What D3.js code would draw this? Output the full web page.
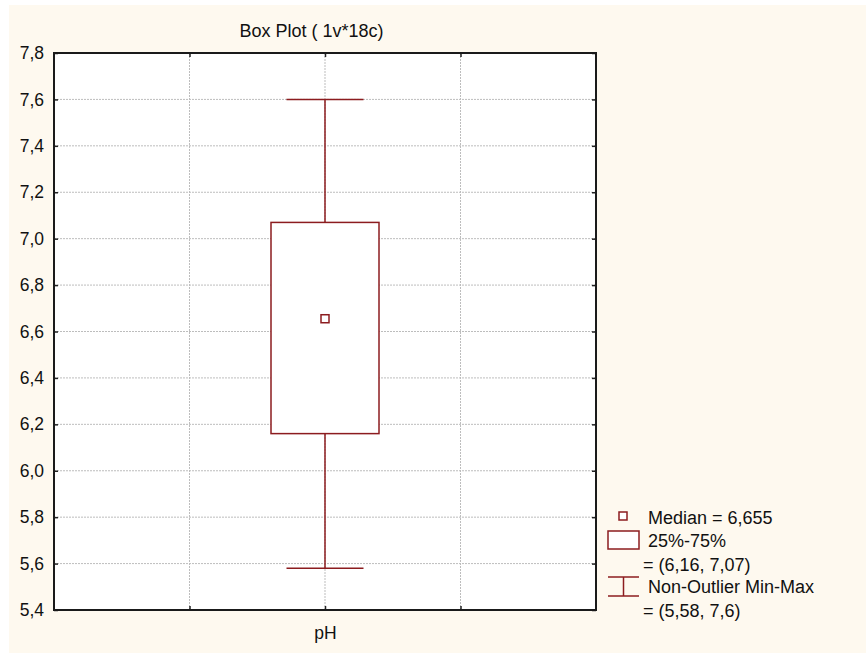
<!DOCTYPE html>
<html>
<head>
<meta charset="utf-8">
<script src="https://cdn.jsdelivr.net/npm/d3@7"></script>
<style>
  body { margin: 0; background: #fff; }
  text { font-family: "Liberation Sans", Arial, sans-serif; fill: #111; }
</style>
</head>
<body>
<div id="chart"></div>
<script>
// box plot values
let categories = ["pH"];
let medians = [6.655];
let q1s = [6.16];
let q3s = [7.07];
let mins = [5.58];
let maxs = [7.6];
let yTicks = [5.4, 5.6, 5.8, 6.0, 6.2, 6.4, 6.6, 6.8, 7.0, 7.2, 7.4, 7.6, 7.8];
let legendLines = ["Median = 6,655", "25%-75%", "= (6,16, 7,07)", "Non-Outlier Min-Max", "= (5,58, 7,6)"];

let width = 866, height = 653;
let margin = {left: 54, top: 53, right: 596, bottom: 610};
let boxColor = "#8c1c1f";

let svg = d3.select("#chart").append("svg").attr("width", width).attr("height", height);

// cream background
svg.append("rect").attr("x", 9).attr("y", 5).attr("width", width - 9).attr("height", height - 5).attr("fill", "#fef9ef");

// plot area
svg.append("rect").attr("x", margin.left).attr("y", margin.top)
    .attr("width", margin.right - margin.left).attr("height", margin.bottom - margin.top)
    .attr("fill", "#fff");

let y = d3.scaleLinear().domain([5.4, 7.8]).range([margin.bottom, margin.top]);
// one category placed in the middle of four equal slots
let x = d3.scalePoint().domain(["a", "b"].concat(categories).concat(["c", "d"])).range([margin.left, margin.right]);

let fmt = v => d3.format(".1f")(v).replace(".", ",");

// grid
let grid = svg.append("g").attr("class", "grid");
yTicks.slice(1, -1).forEach(t => {
    grid.append("line").attr("x1", margin.left).attr("x2", margin.right)
        .attr("y1", y(t)).attr("y2", y(t))
        .attr("stroke", "#bdbdbd").attr("stroke-width", 1).attr("stroke-dasharray", "2,1");
});
["b", "pH", "c"].forEach(k => {
    grid.append("line").attr("x1", x(k)).attr("x2", x(k))
        .attr("y1", margin.top).attr("y2", margin.bottom)
        .attr("stroke", "#bdbdbd").attr("stroke-width", 1).attr("stroke-dasharray", "2,1");
});

// left axis, ticks pointing inward
let yAxis = svg.append("g").attr("transform", "translate(" + margin.left + ",0)")
    .call(d3.axisLeft(y).tickValues(yTicks).tickFormat(fmt).tickSizeInner(-4).tickSizeOuter(0).tickPadding(10));
yAxis.select(".domain").remove();
yAxis.selectAll("line").attr("stroke", "#222").attr("stroke-width", 1.5);
yAxis.selectAll("text").attr("style", "font: 17.5px 'Liberation Sans', Arial, sans-serif").attr("fill", "#111");

// right ticks
let yAxisR = svg.append("g").attr("transform", "translate(" + margin.right + ",0)")
    .call(d3.axisRight(y).tickValues(yTicks).tickFormat("").tickSizeInner(-4).tickSizeOuter(0));
yAxisR.select(".domain").remove();
yAxisR.selectAll("line").attr("stroke", "#222").attr("stroke-width", 1.5);

// bottom ticks
let xAxis = svg.append("g").attr("transform", "translate(0," + margin.bottom + ")")
    .call(d3.axisBottom(x).tickValues(["b", "pH", "c"]).tickFormat(d => d === "pH" ? d : "").tickSizeInner(-4).tickSizeOuter(0).tickPadding(17));
xAxis.select(".domain").remove();
xAxis.selectAll("line").attr("stroke", "#222").attr("stroke-width", 1.5);
xAxis.selectAll("text").attr("style", "font: 17.5px 'Liberation Sans', Arial, sans-serif").attr("fill", "#111");

// top ticks
let xAxisT = svg.append("g").attr("transform", "translate(0," + margin.top + ")")
    .call(d3.axisTop(x).tickValues(["b", "pH", "c"]).tickFormat("").tickSizeInner(-4).tickSizeOuter(0));
xAxisT.select(".domain").remove();
xAxisT.selectAll("line").attr("stroke", "#222").attr("stroke-width", 1.5);

// frame
svg.append("rect").attr("x", margin.left).attr("y", margin.top)
    .attr("width", margin.right - margin.left).attr("height", margin.bottom - margin.top)
    .attr("fill", "none").attr("stroke", "#1a1a1a").attr("stroke-width", 2);

// boxes
let boxW = 108, capW = 77, medSize = 8;
categories.forEach((c, i) => {
    let cx = x(c);
    let g = svg.append("g").attr("class", "box");
    g.append("line").attr("x1", cx).attr("x2", cx).attr("y1", y(maxs[i])).attr("y2", y(q3s[i]))
        .attr("stroke", boxColor).attr("stroke-width", 1.5);
    g.append("line").attr("x1", cx).attr("x2", cx).attr("y1", y(q1s[i])).attr("y2", y(mins[i]))
        .attr("stroke", boxColor).attr("stroke-width", 1.5);
    g.append("line").attr("x1", cx - capW / 2).attr("x2", cx + capW / 2).attr("y1", y(maxs[i])).attr("y2", y(maxs[i]))
        .attr("stroke", boxColor).attr("stroke-width", 1.5);
    g.append("line").attr("x1", cx - capW / 2).attr("x2", cx + capW / 2).attr("y1", y(mins[i])).attr("y2", y(mins[i]))
        .attr("stroke", boxColor).attr("stroke-width", 1.5);
    g.append("rect").attr("x", cx - boxW / 2).attr("y", y(q3s[i]))
        .attr("width", boxW).attr("height", y(q1s[i]) - y(q3s[i]))
        .attr("fill", "#fff").attr("stroke", boxColor).attr("stroke-width", 1.5);
    g.append("rect").attr("x", cx - medSize / 2).attr("y", y(medians[i]) - medSize / 2)
        .attr("width", medSize).attr("height", medSize)
        .attr("fill", "#fff").attr("stroke", boxColor).attr("stroke-width", 1.5);
});

// title
svg.append("text").text("Box Plot ( 1v*18c)").attr("x", 311.5).attr("y", 37)
    .attr("text-anchor", "middle").attr("style", "font: 18px 'Liberation Sans', Arial, sans-serif");

// legend
let lg = svg.append("g").attr("class", "legend");
lg.append("rect").attr("x", 619).attr("y", 512).attr("width", 8).attr("height", 8)
    .attr("fill", "#fff").attr("stroke", boxColor).attr("stroke-width", 1.5);
lg.append("rect").attr("x", 608).attr("y", 531).attr("width", 31).attr("height", 18)
    .attr("fill", "#fff").attr("stroke", boxColor).attr("stroke-width", 1.5);
lg.append("line").attr("x1", 608).attr("x2", 639).attr("y1", 577).attr("y2", 577).attr("stroke", boxColor).attr("stroke-width", 1.5);
lg.append("line").attr("x1", 608).attr("x2", 639).attr("y1", 596).attr("y2", 596).attr("stroke", boxColor).attr("stroke-width", 1.5);
lg.append("line").attr("x1", 623.5).attr("x2", 623.5).attr("y1", 577).attr("y2", 596).attr("stroke", boxColor).attr("stroke-width", 1.5);

let legendPos = [[648, 524], [648, 547], [643, 571], [648, 593], [643, 617]];
legendLines.forEach((t, i) => {
    lg.append("text").text(t).attr("x", legendPos[i][0]).attr("y", legendPos[i][1])
        .attr("style", "font: 18px 'Liberation Sans', Arial, sans-serif");
});
</script>
</body>
</html>
